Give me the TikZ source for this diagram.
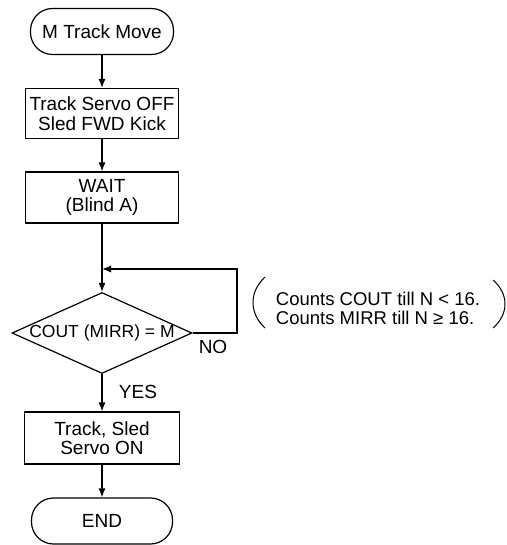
\documentclass[tikz,border=0pt]{standalone}
\usepackage{fontspec}
\setmainfont{Liberation Sans}
\usetikzlibrary{shapes.geometric,arrows.meta}
\begin{document}
\begin{tikzpicture}[x=1pt,y=-1pt, line width=1.2pt,
  every node/.style={font=\fontsize{19}{19.5}\selectfont},
  term/.style={draw, rounded corners=22pt, minimum width=143pt, minimum height=46pt, inner sep=0pt},
  proc/.style={draw, minimum width=153pt, minimum height=50pt, align=center, inner sep=0pt},
  dec/.style={draw, diamond, aspect=2.22, minimum width=180pt, minimum height=81pt, inner sep=0pt},
  arr/.style={-{Latex[length=9pt,width=7pt]}},
  paren/.style={line width=1pt}]
\useasboundingbox (0,0) rectangle (506,545);

\node[term] (start) at (102,31.5) {M Track Move};
\node[proc] (b1) at (102,113.5) {Track Servo OFF\\Sled FWD Kick};
\node[proc, minimum height=51pt] (b2) at (102,197.5) {WAIT\\(Blind A)};
\coordinate (j) at (102,269);
\node[dec] (d) at (102,333) {};
\node[font=\fontsize{17.5}{18}\selectfont] (dt) at (d.center) {COUT (MIRR) = M};
\coordinate (rc) at (237,269);
\node[proc, minimum width=155pt, minimum height=52pt] (b3) at (102,438) {Track, Sled\\Servo ON};
\node[term, minimum width=141pt] (end) at (102,521) {END};

\node (no) at (213,347) {NO};
\node (yes) at (138,392) {YES};

\node[align=left, font=\fontsize{18.5}{19}\selectfont, inner sep=0pt] (note) at (378,308.5) {Counts COUT till N < 16.\\Counts MIRR till N ≥ 16.};

\draw[arr] (start) -- (b1);
\draw[arr] (b1) -- (b2);
\draw (b2) -- (j);
\draw[arr] (j) -- (d.north);
\draw[arr] (d.east) -| (rc) -- (j);
\draw[arr] (d.south) -- (b3);
\draw[arr] (b3) -- (end);

\draw[paren] (265,277) .. controls (249,292) and (249,313) .. (265,328);
\draw[paren] (493,280) .. controls (509,294) and (509,314) .. (493,328);
\end{tikzpicture}
\end{document}
